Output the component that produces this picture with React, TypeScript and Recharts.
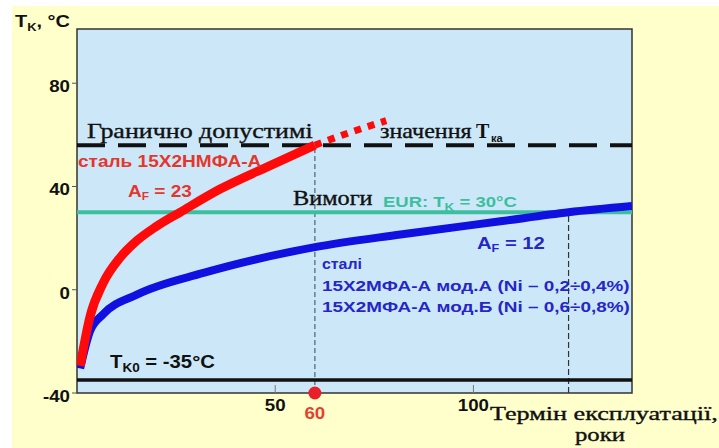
import { useLayoutEffect, useRef, useState } from 'react'
import { ComposedChart, Line, XAxis, YAxis, ReferenceLine, ReferenceArea, ReferenceDot } from 'recharts'

// роки експлуатації / критична температура, °C
const redYears = [0.8, 3.3, 6.6, 10.9, 15.1, 20, 26, 36.1, 48.7, 60]
const redTemps = [-29.5, -10.3, 2.6, 12.5, 19, 24.5, 30, 39, 48.1, 56]
const redExtYears = [60, 69, 78]
const redExtTemps = [56, 61, 65.5]
const blueYears = [0.8, 3.3, 6.6, 15.1, 31.9, 48.7, 60, 81.6, 106.8, 124, 140]
const blueTemps = [-30.5, -16, -9.5, -1.9, 6.5, 13, 16.5, 21.4, 26.5, 30, 32.4]

const xTicks = [50, 60, 100]
const yTicks = [-40, 0, 40, 80]
const limitTemp = 56
const eurTemp = 30
const tk0 = -35
const markYear = 60
const crossYear = 124

const toRows = (xs: number[], ys: number[]) => xs.map((year, i) => ({ year, t: ys[i] }))

const SANS = '"Liberation Sans", Arial, sans-serif'
const SERIF = '"Liberation Serif", "Times New Roman", serif'

function Fit({ x, y, w, anchor = 'start', children, ...rest }: any) {
  const ref = useRef<SVGTextElement>(null)
  const [s, setS] = useState(1)
  useLayoutEffect(() => {
    if (!ref.current) return
    const bw = ref.current.getBBox().width
    if (bw > 0) setS(w / bw)
  }, [w])
  return (
    <g transform={`translate(${x},${y}) scale(${s},1)`}>
      <text ref={ref} x={0} y={0} textAnchor={anchor} {...rest}>
        {children}
      </text>
    </g>
  )
}

const YTick = ({ x, y, payload }: any) => (
  <g>
    <line x1={x - 5} x2={x} y1={y} y2={y} stroke="#555" strokeWidth={1} />
    <g transform={`translate(${x - 7},${y + 9}) scale(1.1,1)`}>
      <text textAnchor="end" fontFamily={SANS} fontWeight="bold" fontSize={17} fill="#111">
        {payload.value}
      </text>
    </g>
  </g>
)

const XTick = ({ x, y, payload }: any) => {
  if (payload.value === markYear) {
    return (
      <g transform={`translate(${x},${y + 26}) scale(1.1,1)`}>
        <text textAnchor="middle" fontFamily={SANS} fontWeight="bold" fontSize={17} fill="#e8402e">
          {payload.value}
        </text>
      </g>
    )
  }
  return (
    <g>
      <line x1={x} x2={x} y1={y} y2={y - 8} stroke="#777" strokeWidth={1} />
      <g transform={`translate(${x},${y + 18}) scale(1.1,1)`}>
        <text textAnchor="middle" fontFamily={SANS} fontWeight="bold" fontSize={17} fill="#111">
          {payload.value}
        </text>
      </g>
    </g>
  )
}

function Overlay() {
  const sans = { fontFamily: SANS, fontWeight: 'bold' as const }
  const serif = { fontFamily: SERIF, stroke: '#111', strokeWidth: 0.35 }
  const red = '#e4362c'
  const blue = '#2626c8'
  const teal = '#3cbf9f'
  return (
    <svg width={719} height={448} style={{ position: 'absolute', left: 0, top: 0, pointerEvents: 'none' }}>
      <Fit x={15} y={27} w={55} {...sans} fontSize={17} fill="#111">
        T<tspan fontSize={11} dy={4}>K</tspan><tspan dy={-4}>, °C</tspan>
      </Fit>
      <Fit x={87} y={138} w={226} {...serif} fontSize={21} fill="#111">Гранично допустимі</Fit>
      <Fit x={380} y={138} w={92} {...serif} fontSize={21} fill="#111">значення</Fit>
      <text x={476} y={138} fontFamily={SERIF} fontWeight="bold" fontSize={20} fill="#111">T</text>
      <text x={491} y={142} {...sans} fontSize={11} fill="#111">ка</text>

      <Fit x={78} y={167} w={184} {...sans} fontSize={16} fill={red}>сталь 15Х2НМФА-А</Fit>
      <Fit x={128} y={197} w={64} {...sans} fontSize={16} fill={red}>
        A<tspan fontSize={10} dy={3}>F</tspan><tspan dy={-3}> = 23</tspan>
      </Fit>

      <Fit x={293} y={205} w={80} {...serif} fontSize={20} fill="#111">Вимоги</Fit>
      <Fit x={383} y={207} w={134} {...sans} fontSize={15} fill={teal}>
        EUR: T<tspan fontSize={11} dy={4}>K</tspan><tspan dy={-4}> = 30°C</tspan>
      </Fit>

      <Fit x={477} y={249} w={68} {...sans} fontSize={16} fill={blue}>
        A<tspan fontSize={10} dy={3}>F</tspan><tspan dy={-3}> = 12</tspan>
      </Fit>
      <Fit x={322} y={269} w={40} {...sans} fontSize={15} fill={blue}>сталі</Fit>
      <Fit x={322} y={291} w={308} {...sans} fontSize={15} fill={blue}>15Х2МФА-А мод.А (Ni – 0,2÷0,4%)</Fit>
      <Fit x={322} y={312} w={308} {...sans} fontSize={15} fill={blue}>15Х2МФА-А мод.Б (Ni – 0,6÷0,8%)</Fit>

      <Fit x={110} y={368} w={105} {...sans} fontSize={18} fill="#111">
        T<tspan fontSize={12} dy={4}>K0</tspan><tspan dy={-4}> = -35°C</tspan>
      </Fit>

      <Fit x={490} y={420} w={228} {...serif} fontSize={19} fill="#111">Термін експлуатації,</Fit>
      <Fit x={600} y={441} w={50} anchor="middle" {...serif} fontSize={19} fill="#111">роки</Fit>
    </svg>
  )
}

export default function App() {
  return (
    <div style={{ position: 'absolute', left: 0, top: 0, width: 719, height: 448, background: '#fff' }}>
      <div style={{ position: 'absolute', left: 12, top: 6, width: 707, height: 442, background: '#ffffcc' }} />
      <div style={{ position: 'absolute', left: 0, top: 0 }}>
        <ComposedChart width={719} height={448} margin={{ top: 29, right: 87, bottom: 0, left: 0 }}>
          <XAxis
            type="number"
            dataKey="year"
            domain={[0, 140]}
            ticks={xTicks}
            allowDataOverflow
            axisLine={false}
            tickLine={false}
            tickSize={0}
            tickMargin={0}
            height={55}
            tick={XTick}
            interval={0}
          />
          <YAxis
            type="number"
            domain={[-40, 101]}
            ticks={yTicks}
            allowDataOverflow
            axisLine={false}
            tickLine={false}
            tickSize={0}
            tickMargin={0}
            width={77}
            tick={YTick}
            interval={0}
          />
          <ReferenceArea x1={0} x2={140} y1={-40} y2={101} fill="#cce8f8" fillOpacity={1} stroke="#333" strokeWidth={1.5} />
          <ReferenceLine
            segment={[{ x: markYear, y: -40 }, { x: markYear, y: limitTemp }]}
            stroke="#6a7a8a"
            strokeWidth={1.5}
            strokeDasharray="5 3"
          />
          <ReferenceLine
            segment={[{ x: crossYear, y: -40 }, { x: crossYear, y: eurTemp }]}
            stroke="#333"
            strokeWidth={1.2}
            strokeDasharray="6 3"
          />
          <ReferenceLine y={tk0} stroke="#111" strokeWidth={3.5} />
          <ReferenceLine y={eurTemp} stroke="#3cbf9f" strokeWidth={4} />
          <ReferenceLine y={limitTemp} stroke="#111" strokeWidth={4} strokeDasharray="28 13" />
          <Line
            data={toRows(blueYears, blueTemps)}
            dataKey="t"
            type="monotone"
            stroke="#1010e0"
            strokeWidth={8}
            dot={false}
            isAnimationActive={false}
          />
          <Line
            data={toRows(redYears, redTemps)}
            dataKey="t"
            type="monotone"
            stroke="#ff0a0a"
            strokeWidth={9}
            dot={false}
            isAnimationActive={false}
          />
          <Line
            data={toRows(redExtYears, redExtTemps)}
            dataKey="t"
            type="monotone"
            stroke="#ff0a0a"
            strokeWidth={7}
            strokeDasharray="7 7"
            dot={false}
            isAnimationActive={false}
          />
          <ReferenceDot x={markYear} y={-40} r={6.5} fill="#e8202a" stroke="none" ifOverflow="visible" />
        </ComposedChart>
      </div>
      <Overlay />
    </div>
  )
}
